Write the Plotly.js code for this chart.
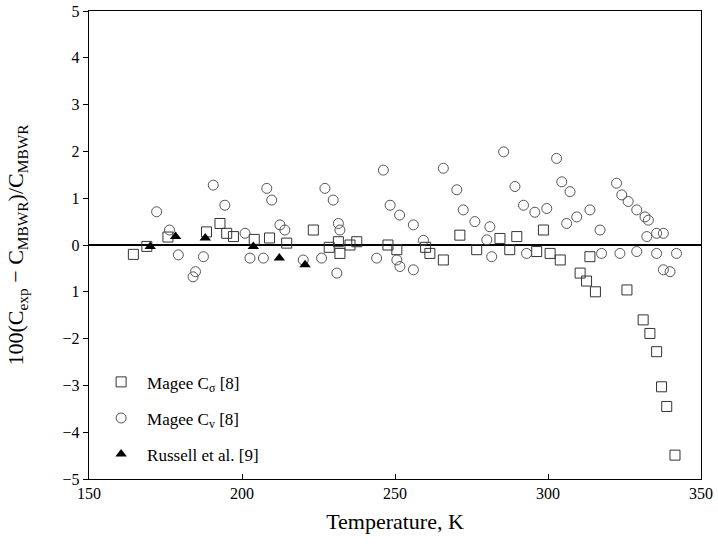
<!DOCTYPE html>
<html>
<head>
<meta charset="utf-8">
<script src="https://cdn.plot.ly/plotly-3.0.1.min.js"></script>
<style>html,body{margin:0;padding:0;background:#fff;}#chart{width:718px;height:544px;}</style>
</head>
<body>
<div id="chart"></div>
<script>
// Magee C_sigma [8] (open squares)
const sigmaT = [164.5,168.9,175.8,188.4,192.8,195.0,197.2,204.0,209.0,214.6,223.3,228.5,231.5,232.0,235.3,237.5,247.7,250.6,260.0,261.4,265.8,271.2,276.7,284.3,287.5,289.8,296.3,298.5,300.7,304.0,310.5,312.6,313.7,315.5,325.8,331.1,333.3,335.5,337.1,338.8,341.5];
const sigmaV = [-0.20,-0.03,0.17,0.28,0.46,0.25,0.18,0.12,0.15,0.04,0.32,-0.05,0.07,-0.18,0.00,0.07,0.00,-0.10,-0.05,-0.18,-0.32,0.21,-0.10,0.14,-0.10,0.18,-0.14,0.32,-0.18,-0.32,-0.60,-0.77,-0.25,-1.00,-0.96,-1.60,-1.89,-2.28,-3.03,-3.45,-4.49];
// Magee C_v [8] (open circles)
const cvT = [172.1,176.3,179.2,184.0,184.8,187.4,190.6,194.4,201.0,202.6,207.0,208.1,209.7,212.4,214.0,220.0,226.0,227.1,229.8,231.0,231.5,232.0,244.0,246.2,248.4,250.6,251.5,251.6,256.0,256.0,259.3,265.8,270.2,272.3,276.1,280.0,281.0,281.6,285.5,289.2,292.0,293.0,295.7,299.6,302.8,304.5,306.1,307.2,309.4,313.7,317.0,317.5,322.4,323.5,324.1,326.2,329.0,329.0,331.7,332.3,332.8,335.5,335.5,337.7,337.7,339.9,342.0];
const cvV = [0.71,0.32,-0.21,-0.68,-0.57,-0.25,1.28,0.85,0.25,-0.28,-0.28,1.21,0.96,0.43,0.32,-0.32,-0.28,1.21,0.96,-0.60,0.46,0.32,-0.28,1.60,0.85,-0.32,0.64,-0.46,0.43,-0.53,0.10,1.64,1.18,0.75,0.50,0.11,0.39,-0.25,1.99,1.25,0.85,-0.18,0.70,0.78,1.85,1.35,0.46,1.14,0.60,0.75,0.32,-0.18,1.32,-0.18,1.07,0.93,0.75,-0.14,0.60,0.18,0.53,0.25,-0.18,0.25,-0.53,-0.57,-0.18];
// Russell et al. [9] (filled triangles)
const rusT = [170.0,178.3,188.0,203.7,212.2,220.6];
const rusV = [-0.03,0.18,0.15,-0.03,-0.28,-0.42];
// Axis ticks
const xTicks = [150,200,250,300,350];
const yTicks = [-5,-4,-3,-2,-1,0,1,2,3,4,5];
const yTickText = ["\u22125","\u22124","\u22123","\u22122","1","0","1","2","3","4","5"];

const serif = '"Liberation Serif"';
const traces = [
  {x: sigmaT, y: sigmaV, type: 'scatter', mode: 'markers', name: 'Magee C<sub>σ</sub> [8]', legendgroup: 'a',
   marker: {symbol: 'square-open', size: 10, color: '#333', line: {width: 1, color: '#333'}}},
  {x: cvT, y: cvV, type: 'scatter', mode: 'markers', name: 'Magee C<sub>v</sub> [8]', legendgroup: 'b',
   marker: {symbol: 'circle-open', size: 10, color: '#555', line: {width: 1, color: '#555'}}},
  {x: rusT, y: rusV, type: 'scatter', mode: 'markers', name: 'Russell et al. [9]', legendgroup: 'c',
   marker: {symbol: 'triangle-up', size: 10, color: '#000'}}
];
const layout = {
  width: 718, height: 544,
  margin: {l: 89, r: 17, t: 11, b: 65},
  paper_bgcolor: '#fff', plot_bgcolor: '#fff',
  font: {family: serif, color: '#000', size: 16},
  showlegend: true,
  legend: {x: 0.01, y: 0.245, xanchor: 'left', yanchor: 'top', bgcolor: 'rgba(0,0,0,0)',
           font: {family: serif, size: 17, color: '#000'}, tracegroupgap: 11, itemwidth: 42},
  xaxis: {range: [150, 350], tickvals: xTicks, ticks: 'inside', ticklen: 5, tickcolor: '#000',
          showgrid: false, zeroline: false, showline: true, linecolor: '#000', linewidth: 1.2, mirror: true,
          tickfont: {family: serif, size: 16},
          title: {text: 'Temperature, K', font: {family: serif, size: 22}, standoff: 12}},
  yaxis: {range: [-5, 5], tickvals: yTicks, ticktext: yTickText, ticks: 'outside', ticklen: 5, tickcolor: '#000',
          showgrid: false, zeroline: true, zerolinecolor: '#000', zerolinewidth: 1.6,
          showline: true, linecolor: '#000', linewidth: 1.2, mirror: true,
          tickfont: {family: serif, size: 16},
          title: {text: '100(C<sub>exp</sub> − C<sub>MBWR</sub>)/C<sub>MBWR</sub>', font: {family: serif, size: 22}, standoff: 32}}
};
Plotly.newPlot('chart', traces, layout, {displayModeBar: false, staticPlot: true});
</script>
</body>
</html>
